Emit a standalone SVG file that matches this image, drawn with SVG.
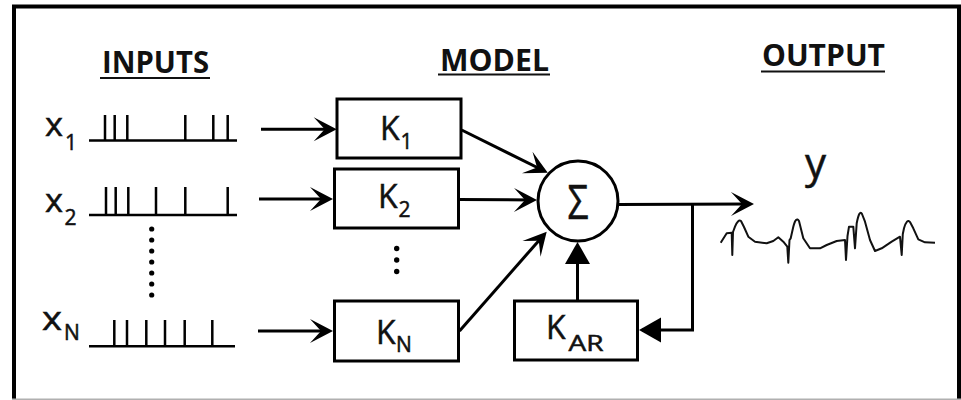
<svg xmlns="http://www.w3.org/2000/svg" width="961" height="400" viewBox="0 0 961 400">
<style>
  .ln{fill:none;stroke:#000;stroke-width:3}
  .box{fill:#fff;stroke:#000;stroke-width:3}
  .spk{fill:none;stroke:#000;stroke-width:2.5}
  .t{font-family:"Open Sans","Liberation Sans",sans-serif;fill:#111;stroke:#111;stroke-width:0.5}
  .hd{font-family:"Open Sans","Liberation Sans",sans-serif;font-weight:bold;font-size:30px;fill:#111}
  .ul{stroke:#111;stroke-width:2}
  .dot{fill:#000}
</style>
<defs>
  <marker id="barb" markerUnits="userSpaceOnUse" viewBox="-25 -14 27 28" refX="-5" refY="0" markerWidth="27" markerHeight="28" orient="auto">
    <path d="M0,0 L-23,-12 L-12,0 L-23,12 Z" fill="#000"/>
  </marker>
  <marker id="tri" markerUnits="userSpaceOnUse" viewBox="-24 -14 26 28" refX="-3" refY="0" markerWidth="26" markerHeight="28" orient="auto">
    <path d="M0,0 L-22,-12.5 L-22,12.5 Z" fill="#000"/>
  </marker>
</defs>
<rect width="961" height="400" fill="#fff"/>
<rect x="14" y="6.5" width="945" height="430" fill="none" stroke="#000" stroke-width="4"/>
<line x1="12" y1="399.2" x2="961" y2="399.2" stroke="#b0b0b0" stroke-width="1.5"/>

<g id="titles">
  <text class="hd" x="102" y="72.5" textLength="107" lengthAdjust="spacingAndGlyphs">INPUTS</text>
  <line class="ul" x1="100" y1="78" x2="210" y2="78"/>
  <text class="hd" x="440" y="70.5" textLength="109" lengthAdjust="spacingAndGlyphs">MODEL</text>
  <line class="ul" x1="438" y1="74.5" x2="550" y2="74.5"/>
  <text class="hd" x="762" y="65.5" textLength="123" lengthAdjust="spacingAndGlyphs">OUTPUT</text>
  <line class="ul" x1="761" y1="71.5" x2="885" y2="71.5"/>
</g>

<g id="input-x1">
  <text class="t" x="45" y="136" font-size="33" textLength="18" lengthAdjust="spacingAndGlyphs">x</text>
  <text class="t" x="65" y="150" font-size="21">1</text>
  <path class="spk" d="M89,140.5 H237 M105,115 V140.5 M114.7,115 V140.5 M127.3,115 V140.5 M185.3,115 V140.5 M213.3,115 V140.5 M227.7,115 V140.5"/>
</g>
<g id="input-x2">
  <text class="t" x="45" y="212" font-size="33" textLength="18" lengthAdjust="spacingAndGlyphs">x</text>
  <text class="t" x="64.5" y="225" font-size="21">2</text>
  <path class="spk" d="M89,215 H237 M106,187 V215 M115.7,187 V215 M128.3,187 V215 M156,187 V215 M185.3,187 V215 M227.7,187 V215"/>
</g>
<g id="input-dots">
  <circle class="dot" cx="151.7" cy="229" r="2.6"/>
  <circle class="dot" cx="151.7" cy="240" r="2.6"/>
  <circle class="dot" cx="151.7" cy="251" r="2.6"/>
  <circle class="dot" cx="151.7" cy="262" r="2.6"/>
  <circle class="dot" cx="151.7" cy="273" r="2.6"/>
  <circle class="dot" cx="151.7" cy="284" r="2.6"/>
  <circle class="dot" cx="151.7" cy="295" r="2.6"/>
</g>
<g id="input-xN">
  <text class="t" x="42" y="330" font-size="33" textLength="20" lengthAdjust="spacingAndGlyphs">x</text>
  <text class="t" x="64" y="340" font-size="21">N</text>
  <path class="spk" d="M89,346.3 H235 M114.3,320 V346.3 M127,320 V346.3 M146.3,320 V346.3 M165,320 V346.3 M184.7,320 V346.3 M212.3,320 V346.3"/>
</g>

<g id="K1">
  <rect class="box" x="337" y="99" width="124" height="59"/>
  <text class="t" x="380" y="140" font-size="32">K</text>
  <text class="t" x="400.5" y="148.5" font-size="21">1</text>
</g>
<g id="K2">
  <rect class="box" x="334.5" y="169" width="124" height="59"/>
  <text class="t" x="378" y="208" font-size="32">K</text>
  <text class="t" x="398.5" y="216.5" font-size="21">2</text>
</g>
<g id="K-dots">
  <circle class="dot" cx="396.7" cy="248.5" r="2.7"/>
  <circle class="dot" cx="396.7" cy="260" r="2.7"/>
  <circle class="dot" cx="396.7" cy="271.5" r="2.7"/>
</g>
<g id="KN">
  <rect class="box" x="334.5" y="301" width="124" height="60"/>
  <text class="t" x="376" y="344" font-size="32">K</text>
  <text class="t" x="396" y="352" font-size="21">N</text>
</g>
<g id="KAR">
  <rect class="box" x="514.5" y="301" width="123" height="59"/>
  <text class="t" x="546" y="338.5" font-size="32">K</text>
  <text class="t" x="568.5" y="351" font-size="21" textLength="35" lengthAdjust="spacingAndGlyphs">AR</text>
</g>
<g id="sum">
  <circle class="box" cx="578" cy="201" r="40"/>
  <text class="t" x="567.5" y="219" font-size="48" textLength="21" lengthAdjust="spacingAndGlyphs">Σ</text>
</g>
<g id="output">
  <text class="t" x="805" y="178" font-size="42">y</text>
  <path fill="none" stroke="#111" stroke-width="2" stroke-linejoin="round" d="M720.7,242.7 L726.7,233.3 L731.7,232.7 L732.3,255 L733,232 L735,226.7 Q738,219 741,221 L744,227 L748.3,236.7 L755,241.7 L766.7,243.3 L773.3,241 L778.3,237.3 L783.3,241.7 L787.3,246.7 L788.3,262.7 L789.5,240 L790.7,238.3 L793.3,226.7 Q796,216 799,221 L803.3,238.3 L810,248.3 L820,248.3 L826.7,245 L836.7,241 L845,240 L846,260 L847.5,236 L849,226.7 L853.3,226.7 L855,248.3 L856.7,223.3 Q859.5,209 862,214 L865,221.7 L870,240 L875,251 L881.7,248.3 L891.7,241.7 L900,236.7 L901.7,255 L902.8,234 L904,228.3 Q907,218 910,222 L913.3,228.3 L918.3,239.3 L925,242.3 L935,242.7"/>
</g>

<g id="connectors">
  <line class="ln" x1="261" y1="129.3" x2="331.7" y2="129.3" marker-end="url(#barb)"/>
  <line class="ln" x1="259" y1="199" x2="328" y2="199" marker-end="url(#barb)"/>
  <line class="ln" x1="258" y1="331" x2="328" y2="331" marker-end="url(#barb)"/>
  <line class="ln" x1="461.7" y1="130" x2="543.3" y2="170.5" marker-end="url(#barb)"/>
  <line class="ln" x1="459" y1="199.5" x2="532" y2="200" marker-end="url(#barb)"/>
  <line class="ln" x1="459.5" y1="331" x2="543.4" y2="235.4" marker-end="url(#barb)"/>
  <line class="ln" x1="577.5" y1="300" x2="577.5" y2="245" marker-end="url(#tri)"/>
  <line class="ln" x1="618" y1="204.5" x2="749" y2="204" marker-end="url(#barb)"/>
  <polyline class="ln" points="692.5,204.5 692.5,330 642,330" marker-end="url(#tri)"/>
</g>
</svg>
